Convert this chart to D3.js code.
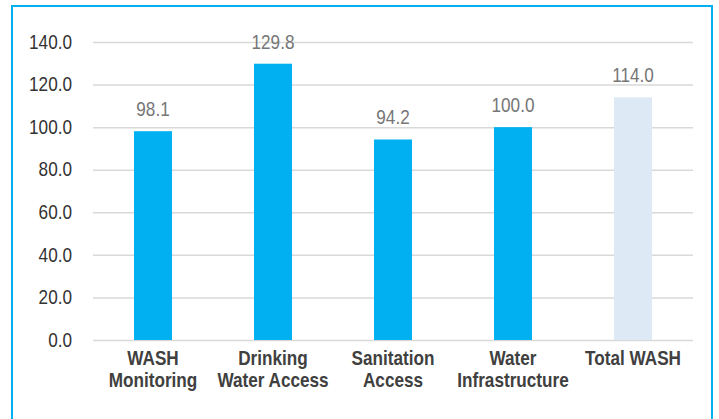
<!DOCTYPE html>
<html>
<head>
<meta charset="utf-8">
<script src="https://cdn.jsdelivr.net/npm/d3@7"></script>
<style>
  body{margin:0;background:#fff;}
  svg{display:block;font-family:"Liberation Sans",Arial,sans-serif;}
</style>
</head>
<body>
<svg id="chart"></svg>
<script>
// 데이터
const categories = [["WASH","Monitoring"],["Drinking","Water Access"],["Sanitation","Access"],["Water","Infrastructure"],["Total WASH"]];
const values = [98.1, 129.8, 94.2, 100.0, 114.0];
const barColors = ["#00b0f0","#00b0f0","#00b0f0","#00b0f0","#dde9f5"];
const yTicks = [0, 20, 40, 60, 80, 100, 120, 140];

const W = 719, H = 419;
const MARGIN = {TOP:42, BOTTOM:79, LEFT:93, RIGHT:26};
// 글자 가로 압축 (원본 폰트가 좁음)
const SX = 0.88;
const FONT = "19.5px";

const svg = d3.select("#chart").attr("width",W).attr("height",H);

// 테두리
svg.append("rect")
  .attr("x",12).attr("y",6)
  .attr("width",700).attr("height",430)
  .attr("fill","none")
  .attr("stroke","#00b0f0")
  .attr("stroke-width",2);

const keys = categories.map(d => d.join(" "));
const xScale = d3.scaleBand()
  .domain(keys)
  .range([MARGIN.LEFT, W-MARGIN.RIGHT])
  .paddingInner(0.683)
  .paddingOuter(0.3415);

const yScale = d3.scaleLinear()
  .domain([0,140])
  .range([H-MARGIN.BOTTOM, MARGIN.TOP]);

// y 축 (그리드 포함)
const yAxis = svg.append("g")
  .attr("transform","translate("+MARGIN.LEFT+",0)")
  .call(d3.axisLeft(yScale).tickValues(yTicks).tickFormat(d3.format(".1f"))
        .tickSize(-(W-MARGIN.LEFT-MARGIN.RIGHT)).tickPadding(21));
yAxis.select(".domain").remove();
yAxis.selectAll(".tick line").attr("stroke","#d9d9d9").attr("stroke-width",1.5);
yAxis.selectAll(".tick text")
  .attr("fill","#333333")
  .attr("font-size",FONT)
  .attr("font-family","Liberation Sans, Arial, sans-serif")
  .attr("x",-21/SX)
  .attr("transform","scale("+SX+",1)");

// 막대
svg.selectAll("rect.bar")
  .data(values)
  .join("rect")
  .attr("class","bar")
  .attr("x",(d,i)=>xScale(keys[i]))
  .attr("width",xScale.bandwidth())
  .attr("y",d=>yScale(d))
  .attr("height",d=>yScale(0)-yScale(d))
  .attr("fill",(d,i)=>barColors[i]);

// 값 라벨
svg.selectAll("text.val")
  .data(values)
  .join("text")
  .attr("class","val")
  .attr("transform",(d,i)=>"translate("+(xScale(keys[i])+xScale.bandwidth()/2)+","+(yScale(d)-15)+") scale("+SX+",1)")
  .attr("text-anchor","middle")
  .attr("font-size",FONT)
  .attr("fill","#767676")
  .text(d=>d3.format(".1f")(d));

// x 축 라벨
const xl = svg.selectAll("text.cat")
  .data(categories)
  .join("text")
  .attr("class","cat")
  .attr("transform",(d,i)=>"translate("+(xScale(keys[i])+xScale.bandwidth()/2)+",365) scale("+SX+",1)")
  .attr("text-anchor","middle")
  .attr("font-size",FONT)
  .attr("font-weight","bold")
  .attr("fill","#404040");
xl.selectAll("tspan")
  .data(d=>d)
  .join("tspan")
  .attr("x",0)
  .attr("dy",(d,i)=>i==0?0:22)
  .text(d=>d);
</script>
</body>
</html>
